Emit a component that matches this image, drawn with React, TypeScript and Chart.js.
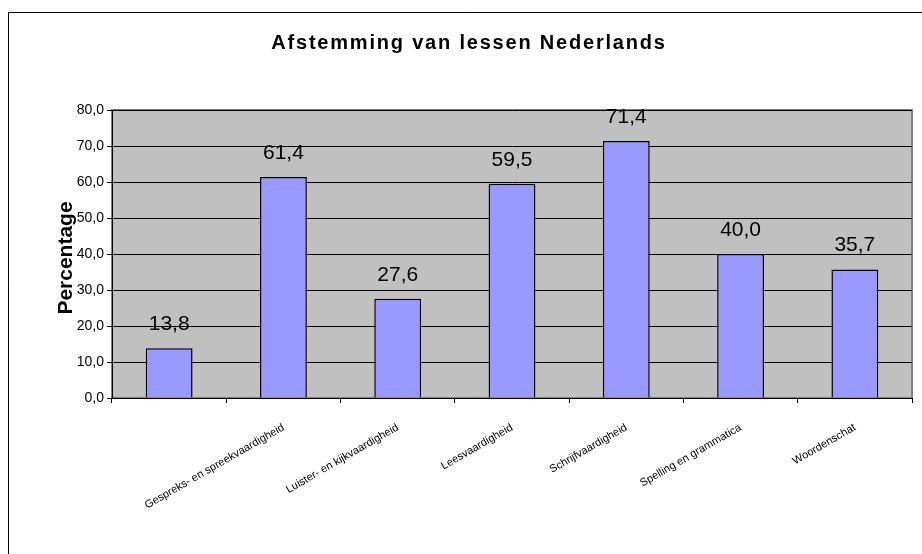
import React, { useEffect, useRef } from "react";
import { Chart, registerables } from "chart.js";

Chart.register(...registerables);

const chartTitle = "Afstemming van lessen Nederlands";
const yAxisTitle = "Percentage";
const categories = [
  "",
  "Gespreks- en spreekvaardigheid",
  "Luister- en kijkvaardigheid",
  "Leesvaardigheid",
  "Schrijfvaardigheid",
  "Spelling en grammatica",
  "Woordenschat",
];
const values = [13.8, 61.4, 27.6, 59.5, 71.4, 40.0, 35.7];
const yTicks = [0, 10, 20, 30, 40, 50, 60, 70, 80];

const FONT = 'Arial, "Liberation Sans", sans-serif';
const fmt = (v: number) => v.toFixed(1).replace(".", ",");

const decorPlugin = {
  id: "decor",
  beforeDraw(chart: any) {
    const { ctx, width, height, chartArea } = chart;
    ctx.save();
    ctx.fillStyle = "#ffffff";
    ctx.fillRect(0, 0, width, height);
    ctx.strokeStyle = "#000000";
    ctx.lineWidth = 1;
    ctx.beginPath();
    ctx.moveTo(8.5, height);
    ctx.lineTo(8.5, 12.5);
    ctx.lineTo(width, 12.5);
    ctx.stroke();
    ctx.fillStyle = "#C0C0C0";
    ctx.fillRect(chartArea.left, chartArea.top, chartArea.right - chartArea.left, chartArea.bottom - chartArea.top);
    ctx.strokeStyle = "#808080";
    ctx.lineWidth = 2;
    ctx.strokeRect(chartArea.left, chartArea.top, chartArea.right - chartArea.left, chartArea.bottom - chartArea.top);
    ctx.restore();
  },
  afterDatasetsDraw(chart: any) {
    const { ctx } = chart;
    const meta = chart.getDatasetMeta(0);
    ctx.save();
    ctx.fillStyle = "#000000";
    ctx.font = `21px ${FONT}`;
    ctx.textAlign = "center";
    ctx.textBaseline = "alphabetic";
    meta.data.forEach((bar: any, i: number) => {
      ctx.fillText(fmt(values[i]), bar.x, bar.y - 18);
    });
    ctx.restore();
  },
  afterDraw(chart: any) {
    const { ctx, chartArea } = chart;
    ctx.save();
    ctx.fillStyle = "#000000";
    ctx.font = `bold 20px ${FONT}`;
    ctx.textAlign = "center";
    ctx.textBaseline = "middle";
    (ctx as any).letterSpacing = "1.8px";
    ctx.fillText(chartTitle, 469, 43);
    (ctx as any).letterSpacing = "0px";
    ctx.translate(66, (chartArea.top + chartArea.bottom) / 2 + 4);
    ctx.rotate(-Math.PI / 2);
    ctx.font = `bold 21px ${FONT}`;
    ctx.fillText(yAxisTitle, 0, 0);
    ctx.restore();
  },
};

export default function App() {
  const ref = useRef<HTMLCanvasElement>(null);
  useEffect(() => {
    if (!ref.current) return;
    const chart = new Chart(ref.current, {
      type: "bar",
      data: {
        labels: categories,
        datasets: [
          {
            data: values,
            backgroundColor: "#9999FF",
            borderColor: "#000000",
            borderWidth: 1.5,
            categoryPercentage: 1,
            barPercentage: 0.41,
          },
        ],
      },
      options: {
        responsive: false,
        animation: false,
        layout: { padding: { top: 110, right: 10, left: 0, bottom: 0 } },
        plugins: {
          legend: { display: false },
          title: { display: false },
          tooltip: { enabled: false },
        },
        scales: {
          x: {
            afterFit(scale: any) {
              scale.height = 156;
            },
            grid: {
              drawOnChartArea: false,
              color: "#000000",
              tickLength: 5,
            },
            border: { color: "#000000", width: 1 },
            ticks: {
              autoSkip: false,
              minRotation: 30,
              maxRotation: 30,
              padding: 18,
              color: "#000000",
              font: { family: FONT, size: 11 },
            },
          },
          y: {
            min: 0,
            max: 80,
            afterFit(scale: any) {
              scale.width = 112;
            },
            afterBuildTicks(scale: any) {
              scale.ticks = yTicks.map((v) => ({ value: v }));
            },
            grid: { color: "#000000", tickLength: 5 },
            border: { color: "#000000", width: 1 },
            ticks: {
              padding: 3,
              color: "#000000",
              font: { family: FONT, size: 14 },
              callback: (v: any) => fmt(Number(v)),
            },
          },
        },
      },
      plugins: [decorPlugin],
    });
    return () => chart.destroy();
  }, []);
  return (
    <div style={{ position: "absolute", left: 0, top: 0, width: 922, height: 554 }}>
      <canvas ref={ref} width={922} height={554} />
    </div>
  );
}
